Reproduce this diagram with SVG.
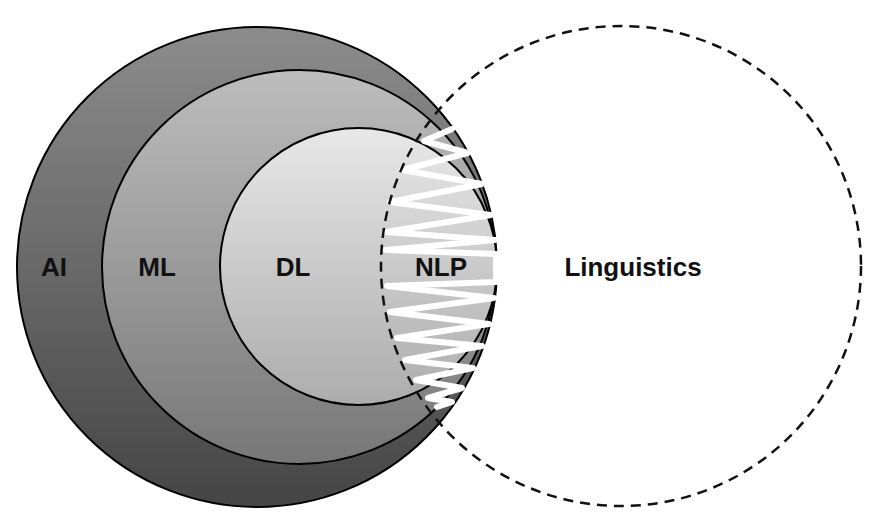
<svg xmlns="http://www.w3.org/2000/svg" width="880" height="531" viewBox="0 0 880 531">
  <style>
    .ring { stroke: #000; stroke-width: 2; }
    .lbl { font-family: "Liberation Sans", Arial, sans-serif; font-weight: bold; font-size: 26px; fill: #111; text-anchor: middle; }
    .dash { fill: none; stroke: #111; stroke-width: 2.5; stroke-dasharray: 10 7; }
    .zig { fill: none; stroke: #fff; stroke-width: 6; stroke-linejoin: round; stroke-linecap: round; }
  </style>
  <defs>
    <linearGradient id="gAI" x1="0" y1="0" x2="0" y2="1">
      <stop offset="0" stop-color="#8c8c8c"/>
      <stop offset="1" stop-color="#454545"/>
    </linearGradient>
    <linearGradient id="gML" x1="0" y1="0" x2="0" y2="1">
      <stop offset="0" stop-color="#bdbdbd"/>
      <stop offset="1" stop-color="#777777"/>
    </linearGradient>
    <linearGradient id="gDL" x1="0" y1="0" x2="0" y2="1">
      <stop offset="0" stop-color="#e8e8e8"/>
      <stop offset="1" stop-color="#acacac"/>
    </linearGradient>
  </defs>
  <rect width="880" height="531" fill="#fff"/>
  <g id="node-ai">
    <circle class="ring" cx="257" cy="267" r="240" fill="url(#gAI)"/>
    <text class="lbl" x="54" y="276">AI</text>
  </g>
  <g id="node-ml">
    <circle class="ring" cx="299" cy="267" r="197" fill="url(#gML)"/>
    <text class="lbl" x="157" y="276">ML</text>
  </g>
  <g id="node-dl">
    <circle class="ring" cx="358.5" cy="266.5" r="138.5" fill="url(#gDL)"/>
    <text class="lbl" x="293" y="276">DL</text>
  </g>
  <g id="node-nlp">
    <polyline class="zig" points="452,129 424,141 468,153 402,170 482,184 390,202 491,215 386,232 495,240 386,250 496,254 496,282 387,286 494,298 390,312 489,324 397,338 482,346 405,360 473,368 416,380 462,388 428,398 452,402 437,407"/>
  </g>
  <g id="node-linguistics">
    <circle class="dash" cx="621" cy="266" r="240"/>
    <text class="lbl" x="633" y="276">Linguistics</text>
  </g>
  <text class="lbl" x="441" y="276">NLP</text>
</svg>
